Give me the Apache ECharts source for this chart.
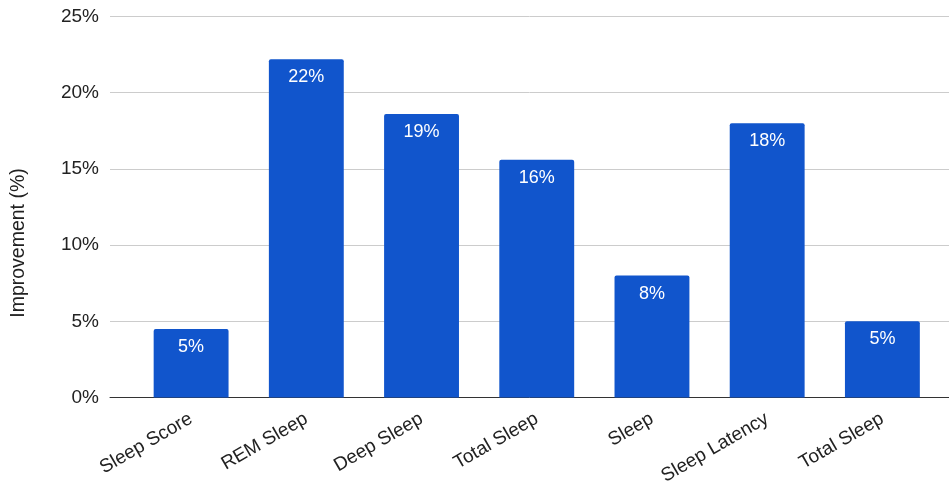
<!DOCTYPE html>
<html>
<head>
<meta charset="utf-8">
<script src="https://cdn.jsdelivr.net/npm/echarts@6/dist/echarts.min.js"></script>
<style>html,body{margin:0;padding:0;background:#fff}#c{width:949px;height:483px}</style>
</head>
<body>
<div id="c"></div>
<script>
const categories = ['Sleep Score', 'REM Sleep', 'Deep Sleep', 'Total Sleep', 'Sleep', 'Sleep Latency', 'Total Sleep'];
const improvement = [4.5, 22.2, 18.6, 15.6, 8.0, 18.0, 5.0];
const yTicks = [0, 5, 10, 15, 20, 25];
const yName = 'Improvement (%)';

const font = 'Liberation Sans, Arial, sans-serif';
const chart = echarts.init(document.getElementById('c'), null, {renderer: 'canvas'});
chart.setOption({
  animation: false,
  grid: [
    {left: 110, right: 0, top: 16.5, bottom: 85.5, outerBoundsMode: 'none', containLabel: false},
    {left: 133.5, right: 9, top: 16.5, bottom: 85.5, outerBoundsMode: 'none', containLabel: false}
  ],
  graphic: [{
    type: 'text', x: 19, y: 243, rotation: Math.PI / 2,
    style: {text: yName, fontSize: 19.5, fontFamily: font, fill: '#222', align: 'center', verticalAlign: 'middle'}
  }],
  xAxis: [
    {gridIndex: 0, type: 'value', min: 0, max: 1, axisLine: {show: true, onZero: false, lineStyle: {color: '#333', width: 1}},
     axisTick: {show: false}, axisLabel: {show: false}, splitLine: {show: false}},
    {gridIndex: 1, type: 'category', data: categories, axisLine: {show: false}, axisTick: {show: false},
     axisLabel: {rotate: 30, fontSize: 19, color: '#222', fontFamily: font, margin: 20, interval: 0}}
  ],
  yAxis: [
    {gridIndex: 0, type: 'value', min: yTicks[0], max: yTicks[yTicks.length - 1], interval: 5,
     axisLine: {show: false}, axisTick: {show: false},
     axisLabel: {formatter: '{value}%', fontSize: 19, color: '#222', fontFamily: font, margin: 11},
     splitLine: {lineStyle: {color: '#cccccc', width: 1}}},
    {gridIndex: 1, type: 'value', min: yTicks[0], max: yTicks[yTicks.length - 1], show: false, splitLine: {show: false}}
  ],
  series: [{
    type: 'bar', xAxisIndex: 1, yAxisIndex: 1, data: improvement, barWidth: '65%',
    itemStyle: {color: '#1155cc', borderRadius: [2, 2, 0, 0]},
    label: {show: true, position: 'insideTop', distance: 9, color: '#fff', fontSize: 18, fontFamily: font,
      formatter: p => Math.round(p.value) + '%'}
  }]
});
</script>
</body>
</html>
